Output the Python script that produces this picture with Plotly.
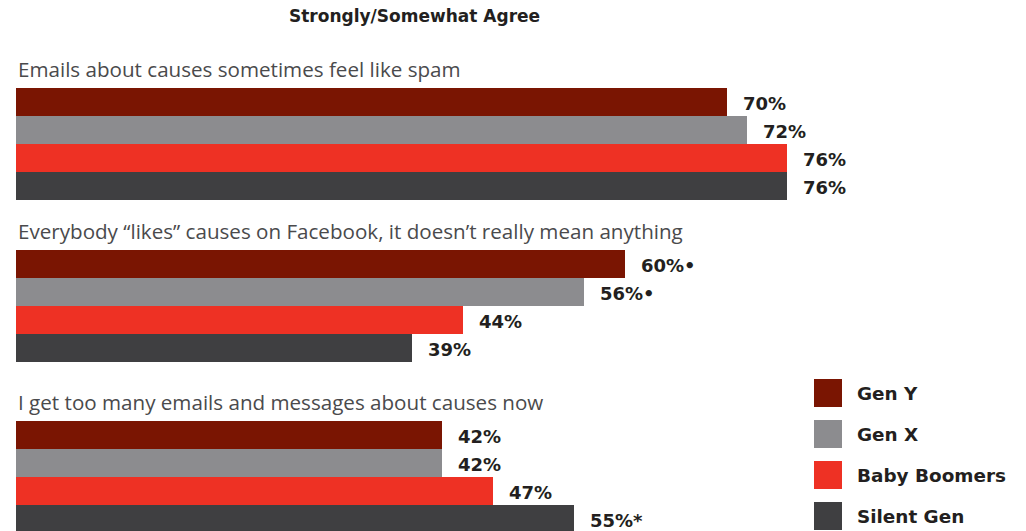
import plotly.graph_objects as go

# Survey statements and generation responses (percent strongly/somewhat agree)
statements = [
    "Emails about causes sometimes feel like spam",
    "Everybody \u201clikes\u201d causes on Facebook, it doesn\u2019t really mean anything",
    "I get too many emails and messages about causes now",
]
generations = ["Gen Y", "Gen X", "Baby Boomers", "Silent Gen"]
values = {
    "Gen Y":        [70, 60, 42],
    "Gen X":        [72, 56, 42],
    "Baby Boomers": [76, 44, 47],
    "Silent Gen":   [76, 39, 55],
}
# significance markers appended to value labels
markers = {
    "Gen Y":        ["", "\u2022", ""],
    "Gen X":        ["", "\u2022", ""],
    "Baby Boomers": ["", "", ""],
    "Silent Gen":   ["", "", "*"],
}
colors = {
    "Gen Y": "#7a1502",
    "Gen X": "#8c8c8f",
    "Baby Boomers": "#ee3124",
    "Silent Gen": "#3f3f41",
}

# layout geometry (y axis runs in pixel-like units from the top)
W, H = 1026, 531
LEFT = 16
group_top = [88, 250, 421]
bar_h = 28
x_max = (W - LEFT) / 10.15

BOLD = "DejaVu Sans, sans-serif"
fig = go.Figure()
label_font = dict(family=BOLD, size=18, color="#231f20")

for gi, gen in enumerate(generations):
    ys = [group_top[k] + bar_h * gi + bar_h / 2 for k in range(len(statements))]
    fig.add_trace(go.Bar(
        x=values[gen], y=ys, orientation="h", width=bar_h,
        marker=dict(color=colors[gen], line=dict(width=0)),
        name=gen, showlegend=False, hoverinfo="skip",
    ))
    for k, v in enumerate(values[gen]):
        fig.add_annotation(
            x=v, y=ys[k] + 1, xref="x", yref="y", xanchor="left", yanchor="middle",
            xshift=14, showarrow=False,
            text=f"<b>{v}%{markers[gen][k]}</b>", font=label_font,
        )

# statement headings above each group
for k, s in enumerate(statements):
    fig.add_annotation(
        x=LEFT / W, y=group_top[k] - 19, xref="paper", yref="y",
        xanchor="left", yanchor="middle", showarrow=False, text=s,
        font=dict(family="Open Sans, sans-serif", size=20.6, color="#4a4a4c"),
    )

# chart title
fig.add_annotation(
    x=414 / W, y=16, xref="paper", yref="y", xanchor="center", yanchor="middle",
    showarrow=False, text="<b>Strongly/Somewhat Agree</b>",
    font=dict(family=BOLD, size=17, color="#231f20"),
)

# legend swatches
leg_top = [379, 420, 461, 502]
for gi, gen in enumerate(generations):
    fig.add_shape(
        type="rect", xref="paper", yref="y",
        x0=814 / W, x1=842 / W, y0=leg_top[gi], y1=leg_top[gi] + 28,
        fillcolor=colors[gen], line=dict(width=0),
    )
    fig.add_annotation(
        x=855 / W, y=leg_top[gi] + 14, xref="paper", yref="y",
        xanchor="left", yanchor="middle", showarrow=False,
        text=f"<b>{gen}</b>", font=dict(family=BOLD, size=18.4, color="#231f20"),
    )

fig.update_layout(
    width=W, height=H,
    margin=dict(l=0, r=0, t=0, b=0),
    paper_bgcolor="white", plot_bgcolor="white",
    bargap=0, barmode="overlay",
    xaxis=dict(domain=[LEFT / W, 1], range=[0, x_max], visible=False, fixedrange=True),
    yaxis=dict(domain=[0, 1], range=[H, 0], visible=False, fixedrange=True),
)

fig.write_html("out.html", config={"displayModeBar": False})
